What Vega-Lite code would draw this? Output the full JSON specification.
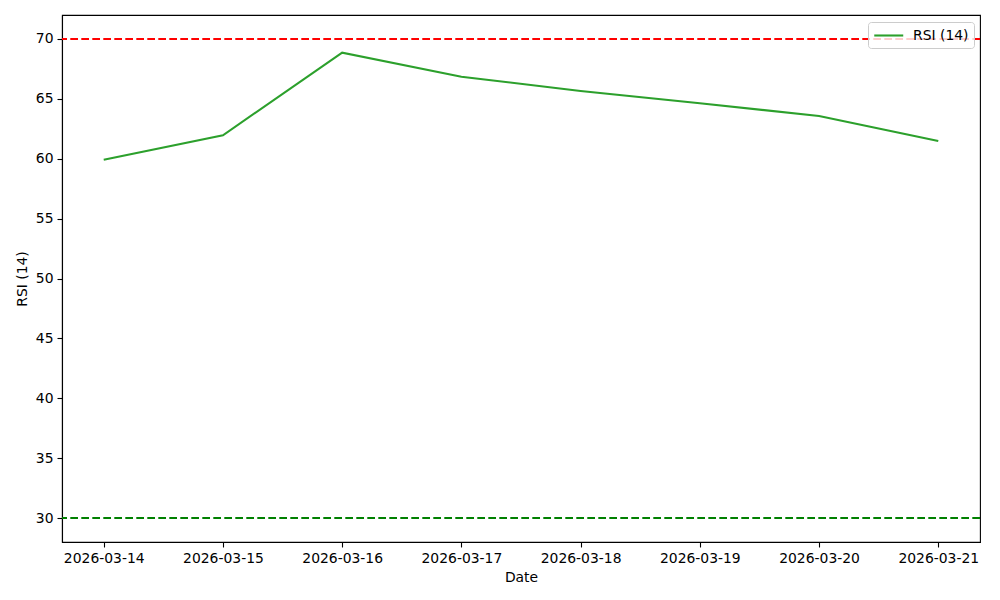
{
  "$schema": "https://vega.github.io/schema/vega-lite/v6.json",
  "autosize": {"type": "none"},
  "width": 918,
  "height": 527,
  "padding": {"left": 62, "top": 15, "right": 20, "bottom": 58},
  "background": "white",
  "config": {
    "view": {"stroke": "black", "strokeWidth": 1.1},
    "axis": {
      "grid": false,
      "domainColor": "black",
      "domainWidth": 1.1,
      "tickColor": "black",
      "tickWidth": 1.1,
      "labelColor": "black",
      "titleColor": "black",
      "labelFont": "DejaVu Sans",
      "titleFont": "DejaVu Sans",
      "labelFontSize": 13.9,
      "titleFontSize": 13.9,
      "titleFontWeight": "normal",
      "tickSize": 5,
      "labelPadding": 4,
      "labelFlush": false,
      "labelOverlap": false
    },
    "legend": {
      "labelFont": "DejaVu Sans",
      "labelFontSize": 13.9,
      "labelColor": "black"
    }
  },
  "layer": [
    {
      "data": {"values": [{"level": 70}]},
      "mark": {"type": "rule", "color": "#ff0000", "strokeWidth": 2.08, "strokeDash": [7.7, 3.3]},
      "encoding": {"y": {"field": "level", "type": "quantitative", "scale": {"domain": [28, 72], "zero": false, "nice": false}}}
    },
    {
      "data": {"values": [{"level": 30}]},
      "mark": {"type": "rule", "color": "#008000", "strokeWidth": 2.08, "strokeDash": [7.7, 3.3]},
      "encoding": {"y": {"field": "level", "type": "quantitative"}}
    },
    {
      "data": {
        "values": [
          {"date": "2026-03-14", "rsi": 59.92, "series": "RSI (14)"},
          {"date": "2026-03-15", "rsi": 61.96, "series": "RSI (14)"},
          {"date": "2026-03-16", "rsi": 68.86, "series": "RSI (14)"},
          {"date": "2026-03-17", "rsi": 66.85, "series": "RSI (14)"},
          {"date": "2026-03-18", "rsi": 65.66, "series": "RSI (14)"},
          {"date": "2026-03-19", "rsi": 64.63, "series": "RSI (14)"},
          {"date": "2026-03-20", "rsi": 63.57, "series": "RSI (14)"},
          {"date": "2026-03-21", "rsi": 61.48, "series": "RSI (14)"}
        ]
      },
      "mark": {"type": "line", "strokeWidth": 2.08},
      "encoding": {
        "x": {
          "field": "date",
          "type": "temporal",
          "title": "Date",
          "scale": {
            "type": "utc",
            "domain": [
              {"year": 2026, "month": 3, "date": 13, "hours": 15, "minutes": 36, "utc": true},
              {"year": 2026, "month": 3, "date": 21, "hours": 8, "minutes": 24, "utc": true}
            ],
            "nice": false
          },
          "axis": {"format": "%Y-%m-%d", "tickCount": {"interval": "day", "step": 1}, "titlePadding": 6}
        },
        "y": {
          "field": "rsi",
          "type": "quantitative",
          "title": "RSI (14)",
          "axis": {"values": [30, 35, 40, 45, 50, 55, 60, 65, 70], "titlePadding": 6}
        },
        "color": {
          "field": "series",
          "type": "nominal",
          "scale": {"range": ["#2ca02c"]},
          "legend": {
            "title": null,
            "orient": "none",
            "legendX": 806,
            "legendY": 7,
            "symbolType": "M-1,0H3",
            "symbolSize": 210,
            "symbolStrokeWidth": 2.08,
            "labelOffset": 23,
            "padding": 5,
            "strokeColor": "#cccccc",
            "fillColor": "rgba(255,255,255,0.8)",
            "cornerRadius": 3
          }
        }
      }
    }
  ]
}
